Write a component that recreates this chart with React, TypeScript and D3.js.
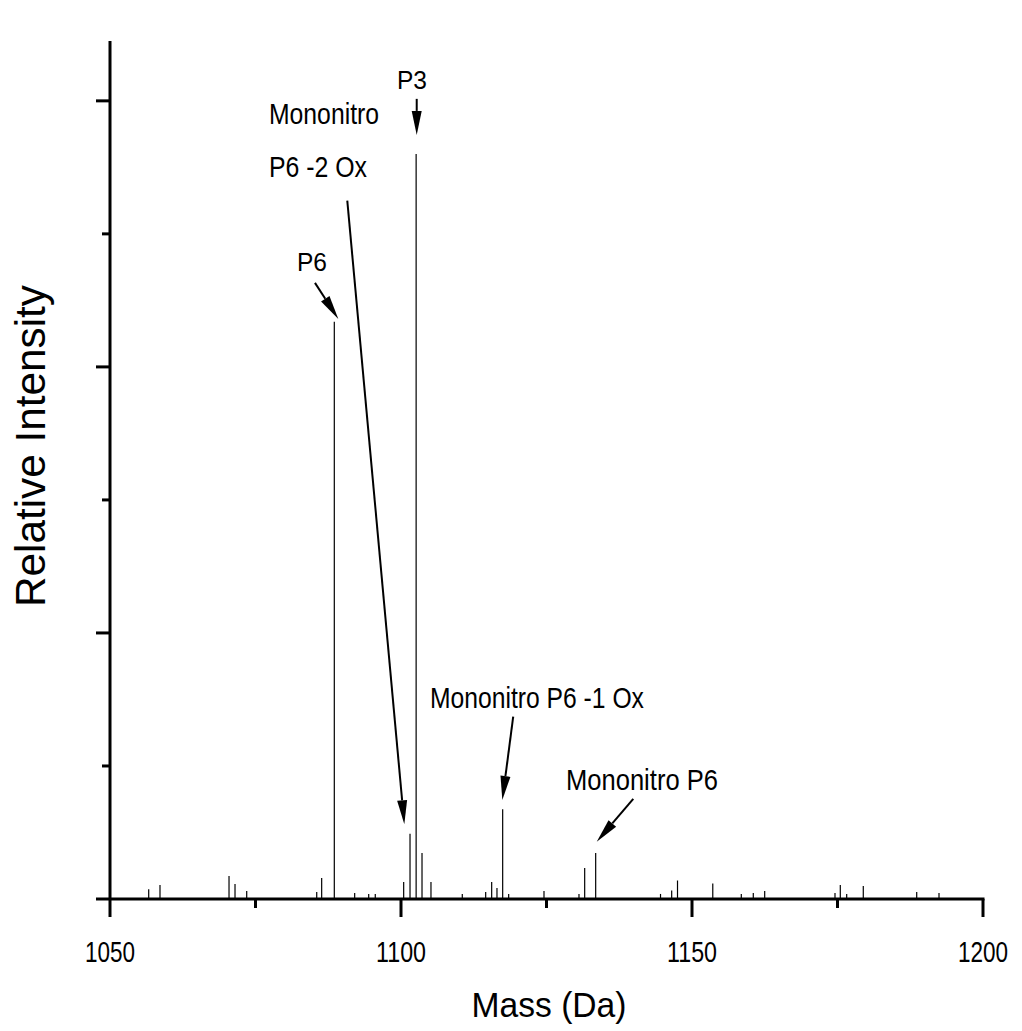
import React from "react";
import * as d3 from "d3";

// Peak list: mass (Da) and relative intensity (arbitrary units, axis unlabeled)
const peakMass = [
  1056.65, 1058.59, 1070.45, 1071.48, 1073.49, 1085.52, 1086.37, 1088.54, 1092.04, 1094.45,
  1095.58, 1100.46, 1101.55, 1102.6, 1103.61, 1105.15, 1110.53, 1114.55, 1115.58, 1116.49,
  1117.47, 1118.5, 1124.57, 1130.58, 1131.56, 1133.45, 1144.59, 1146.51, 1147.51, 1153.57,
  1158.47, 1160.53, 1162.49, 1174.57, 1175.48, 1176.58, 1179.43, 1188.61, 1192.44,
];
const peakIntensity = [
  0.073, 0.105, 0.173, 0.113, 0.06, 0.053, 0.158, 4.34, 0.045, 0.038,
  0.038, 0.128, 0.49, 5.6, 0.346, 0.128, 0.038, 0.053, 0.128, 0.083,
  0.674, 0.038, 0.06, 0.038, 0.233, 0.346, 0.038, 0.064, 0.139, 0.117,
  0.038, 0.045, 0.06, 0.045, 0.105, 0.038, 0.098, 0.053, 0.045,
];

const xTickMajor = [1050, 1100, 1150, 1200];
const xTickMinor = [1075, 1125, 1175];
const yTickMajor = [0, 2, 4, 6];
const yTickMinor = [1, 3, 5];

// Annotation labels (text lines) and arrows, in data coordinates
const labelTexts = ["P3", "P6", "Mononitro", "P6 -2 Ox", "Mononitro P6 -1 Ox", "Mononitro P6"];
const labelMass = [1101.89, 1082.13, 1077.32, 1077.32, 1104.98, 1128.35];
const labelInt = [6.09, 4.722, 5.827, 5.429, 1.436, 0.82];
const labelAnchor = ["middle", "start", "start", "start", "start", "start"];
const labelSize = [25, 25, 30, 30, 30, 30];
const labelWidth = [30, 30, 110, 98, 214, 152];

const arrowStartMass = [1102.7, 1085.22, 1090.77, 1119.28, 1139.91];
const arrowStartInt = [6.015, 4.632, 5.25, 1.371, 0.752];
const arrowTipMass = [1102.7, 1089.23, 1100.57, 1117.41, 1133.63];
const arrowTipInt = [5.744, 4.361, 0.562, 0.744, 0.431];

const FONT = "'Liberation Sans', Arial, sans-serif";

export default function App() {
  const x = d3.scaleLinear().domain([1050, 1200]).range([110, 983]);
  const y = d3.scaleLinear().domain([0, 6.45]).range([899, 41]);
  const y0 = y(0);
  const x0 = x(1050);

  const arrows = arrowStartMass.map((m, i) => {
    const sx = x(m), sy = y(arrowStartInt[i]);
    const tx = x(arrowTipMass[i]), ty = y(arrowTipInt[i]);
    const dx = tx - sx, dy = ty - sy;
    const len = Math.hypot(dx, dy);
    const ux = dx / len, uy = dy / len;
    const hl = 24, hw = 5;
    const bx = tx - ux * hl, by = ty - uy * hl;
    const px = -uy, py = ux;
    const head = `${tx},${ty} ${bx + px * hw},${by + py * hw} ${bx - px * hw},${by - py * hw}`;
    return { sx, sy, bx, by, head };
  });

  return (
    <svg
      width={1022}
      height={1031}
      style={{ position: "absolute", left: 0, top: 0, background: "#fff" }}
    >
      {/* peaks */}
      <g stroke="#000" strokeWidth={1.2}>
        {peakMass.map((m, i) => (
          <line key={i} x1={x(m)} x2={x(m)} y1={y0} y2={y(peakIntensity[i])} />
        ))}
      </g>

      {/* axes */}
      <g stroke="#000" strokeWidth={3} strokeLinecap="butt">
        <line x1={x0} x2={x0} y1={y(6.45)} y2={y0} />
        <line x1={x0} x2={x(1200) + 1.5} y1={y0} y2={y0} />
        {xTickMajor.map((t) => (
          <line key={"xM" + t} x1={x(t)} x2={x(t)} y1={y0} y2={y0 + 18} />
        ))}
        {xTickMinor.map((t) => (
          <line key={"xm" + t} x1={x(t)} x2={x(t)} y1={y0} y2={y0 + 9} />
        ))}
        {yTickMajor.map((t) => (
          <line key={"yM" + t} x1={x0 - 14} x2={x0} y1={y(t)} y2={y(t)} />
        ))}
        {yTickMinor.map((t) => (
          <line key={"ym" + t} x1={x0 - 8} x2={x0} y1={y(t)} y2={y(t)} />
        ))}
      </g>

      {/* tick labels */}
      <g fontFamily={FONT} fontSize={29} fill="#000" textAnchor="middle">
        {xTickMajor.map((t) => (
          <text key={t} x={x(t)} y={962} textLength={50} lengthAdjust="spacingAndGlyphs">
            {t}
          </text>
        ))}
      </g>

      {/* axis titles */}
      <text
        x={549}
        y={1017}
        fontFamily={FONT}
        fontSize={35}
        textAnchor="middle"
        textLength={155}
        lengthAdjust="spacingAndGlyphs"
      >
        Mass (Da)
      </text>
      <text
        transform="translate(45,446) rotate(-90)"
        fontFamily={FONT}
        fontSize={42}
        textAnchor="middle"
        textLength={322}
        lengthAdjust="spacingAndGlyphs"
      >
        Relative Intensity
      </text>

      {/* annotations */}
      <g fontFamily={FONT} fill="#000">
        {labelTexts.map((t, i) => (
          <text
            key={i}
            x={x(labelMass[i])}
            y={y(labelInt[i])}
            fontSize={labelSize[i]}
            textAnchor={labelAnchor[i]}
            textLength={labelWidth[i]}
            lengthAdjust="spacingAndGlyphs"
          >
            {t}
          </text>
        ))}
      </g>
      <g>
        {arrows.map((a, i) => (
          <g key={i}>
            <line x1={a.sx} y1={a.sy} x2={a.bx} y2={a.by} stroke="#000" strokeWidth={2} />
            <polygon points={a.head} fill="#000" />
          </g>
        ))}
      </g>
    </svg>
  );
}
